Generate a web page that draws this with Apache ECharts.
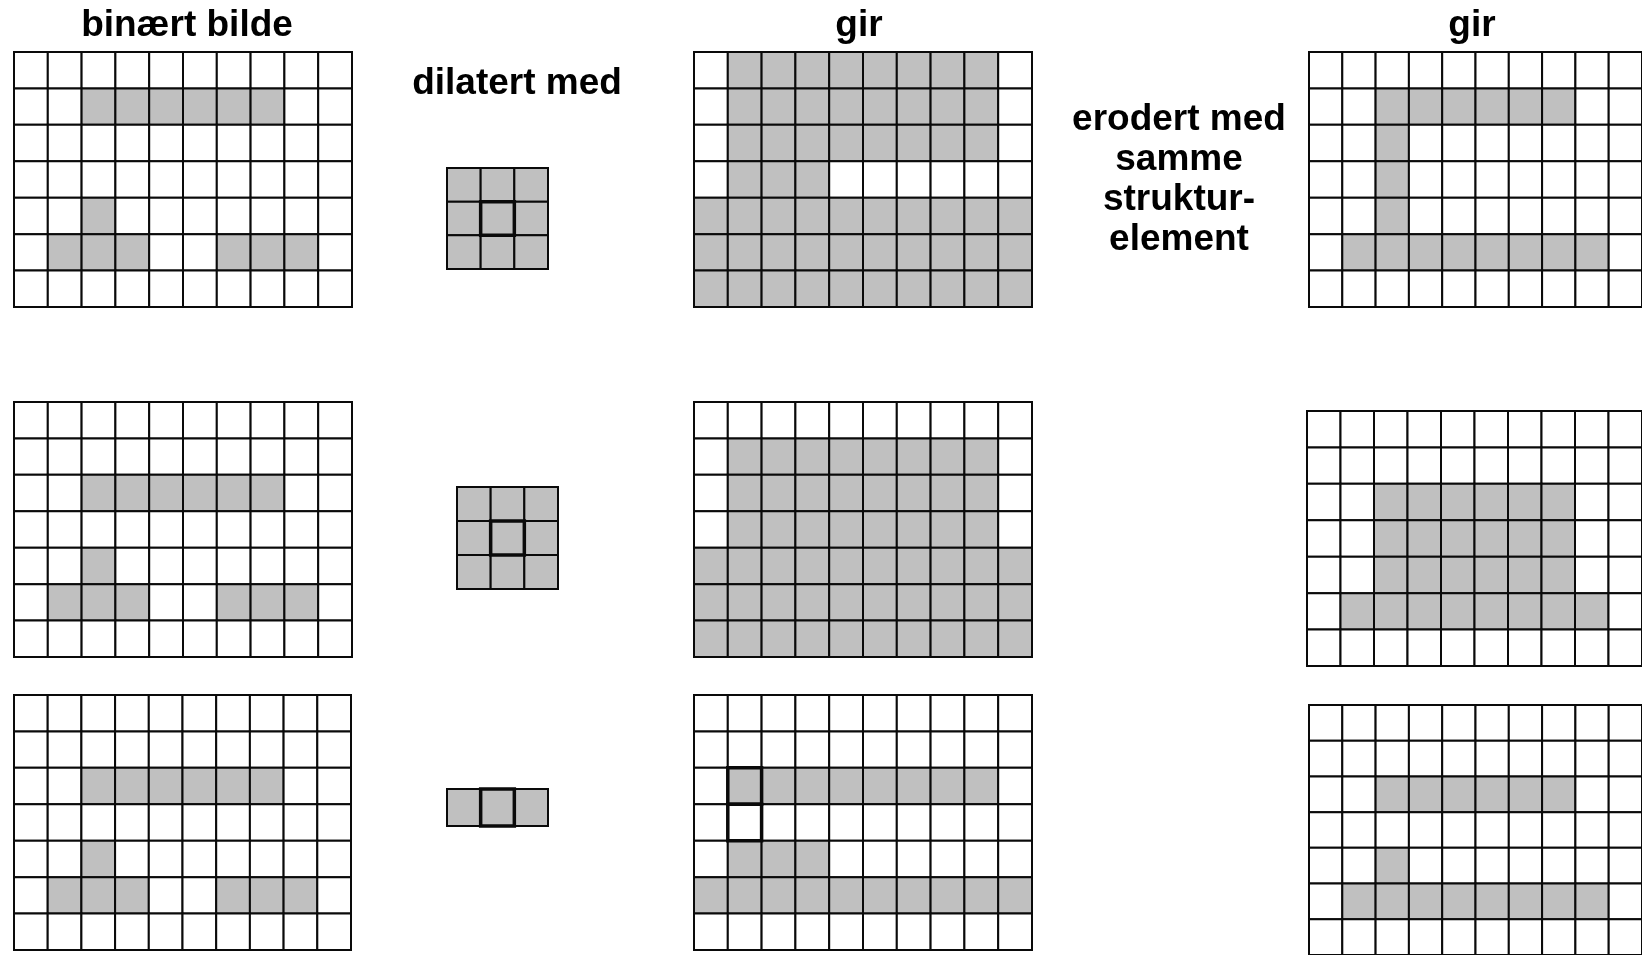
<!DOCTYPE html>
<html>
<head>
<meta charset="utf-8">
<title>dilatasjon og erosjon</title>
<script src="https://cdn.jsdelivr.net/npm/echarts@6/dist/echarts.min.js"></script>
<style>
  html, body { margin: 0; padding: 0; background: #fff; }
  #chart { width: 1642px; height: 955px; }
</style>
</head>
<body>
<div id="chart"></div>
<script>
// binære bilder (1 = grå piksel), lest av figuren rad for rad
const binaryA = [
  [0,0,0,0,0,0,0,0,0,0],
  [0,0,1,1,1,1,1,1,0,0],
  [0,0,0,0,0,0,0,0,0,0],
  [0,0,0,0,0,0,0,0,0,0],
  [0,0,1,0,0,0,0,0,0,0],
  [0,1,1,1,0,0,1,1,1,0],
  [0,0,0,0,0,0,0,0,0,0]
]
const dilatedA = [
  [0,1,1,1,1,1,1,1,1,0],
  [0,1,1,1,1,1,1,1,1,0],
  [0,1,1,1,1,1,1,1,1,0],
  [0,1,1,1,0,0,0,0,0,0],
  [1,1,1,1,1,1,1,1,1,1],
  [1,1,1,1,1,1,1,1,1,1],
  [1,1,1,1,1,1,1,1,1,1]
]
const erodedA = [
  [0,0,0,0,0,0,0,0,0,0],
  [0,0,1,1,1,1,1,1,0,0],
  [0,0,1,0,0,0,0,0,0,0],
  [0,0,1,0,0,0,0,0,0,0],
  [0,0,1,0,0,0,0,0,0,0],
  [0,1,1,1,1,1,1,1,1,0],
  [0,0,0,0,0,0,0,0,0,0]
]
const binaryB = [
  [0,0,0,0,0,0,0,0,0,0],
  [0,0,0,0,0,0,0,0,0,0],
  [0,0,1,1,1,1,1,1,0,0],
  [0,0,0,0,0,0,0,0,0,0],
  [0,0,1,0,0,0,0,0,0,0],
  [0,1,1,1,0,0,1,1,1,0],
  [0,0,0,0,0,0,0,0,0,0]
]
const dilatedB = [
  [0,0,0,0,0,0,0,0,0,0],
  [0,1,1,1,1,1,1,1,1,0],
  [0,1,1,1,1,1,1,1,1,0],
  [0,1,1,1,1,1,1,1,1,0],
  [1,1,1,1,1,1,1,1,1,1],
  [1,1,1,1,1,1,1,1,1,1],
  [1,1,1,1,1,1,1,1,1,1]
]
const erodedB = [
  [0,0,0,0,0,0,0,0,0,0],
  [0,0,0,0,0,0,0,0,0,0],
  [0,0,1,1,1,1,1,1,0,0],
  [0,0,1,1,1,1,1,1,0,0],
  [0,0,1,1,1,1,1,1,0,0],
  [0,1,1,1,1,1,1,1,1,0],
  [0,0,0,0,0,0,0,0,0,0]
]
const binaryC = [
  [0,0,0,0,0,0,0,0,0,0],
  [0,0,0,0,0,0,0,0,0,0],
  [0,0,1,1,1,1,1,1,0,0],
  [0,0,0,0,0,0,0,0,0,0],
  [0,0,1,0,0,0,0,0,0,0],
  [0,1,1,1,0,0,1,1,1,0],
  [0,0,0,0,0,0,0,0,0,0]
]
const dilatedC = [
  [0,0,0,0,0,0,0,0,0,0],
  [0,0,0,0,0,0,0,0,0,0],
  [0,1,1,1,1,1,1,1,1,0],
  [0,0,0,0,0,0,0,0,0,0],
  [0,1,1,1,0,0,0,0,0,0],
  [1,1,1,1,1,1,1,1,1,1],
  [0,0,0,0,0,0,0,0,0,0]
]
const erodedC = [
  [0,0,0,0,0,0,0,0,0,0],
  [0,0,0,0,0,0,0,0,0,0],
  [0,0,1,1,1,1,1,1,0,0],
  [0,0,0,0,0,0,0,0,0,0],
  [0,0,1,0,0,0,0,0,0,0],
  [0,1,1,1,1,1,1,1,1,0],
  [0,0,0,0,0,0,0,0,0,0]
]

// strukturelementer
const seSquare = [
  [1,1,1],
  [1,1,1],
  [1,1,1]
]
const seLine = [
  [1,1,1]
]
// celler med tykk ramme: [kolonne, rad]
const seSquareCenter = [[1, 1]]
const seLineCenter = [[1, 0]]
const markedC = [[1, 2], [1, 3]]

// tekster
const titleBinary = 'binært bilde'
const titleDilate = 'dilatert med'
const titleResult = 'gir'
const titleErode = 'erodert med\nsamme\nstruktur-\nelement'

// panel: bilde + plassering (px)
const panels = [
  { img: binaryA,  mark: [],             box: [14, 52, 338, 255] },
  { img: seSquare, mark: seSquareCenter, box: [447, 168, 101, 101] },
  { img: dilatedA, mark: [],             box: [694, 52, 338, 255] },
  { img: erodedA,  mark: [],             box: [1309, 52, 338, 255] },

  { img: binaryB,  mark: [],             box: [14, 402, 338, 255] },
  { img: seSquare, mark: seSquareCenter, box: [457, 487, 101, 102] },
  { img: dilatedB, mark: [],             box: [694, 402, 338, 255] },
  { img: erodedB,  mark: [],             box: [1307, 411, 338, 255] },

  { img: binaryC,  mark: [],             box: [14, 695, 337, 255] },
  { img: seLine,   mark: seLineCenter,   box: [447, 789, 101, 37] },
  { img: dilatedC, mark: markedC,        box: [694, 695, 338, 255] },
  { img: erodedC,  mark: [],             box: [1309, 705, 338, 255] }
]

function toCells(img, mark) {
  const thin = [], thick = []
  img.forEach((row, r) => row.forEach((v, c) => {
    const isMarked = mark.some(m => m[0] === c && m[1] === r)
    ;(isMarked ? thick : thin).push([c, r, v, isMarked ? 1 : 0])
  }))
  return thin.concat(thick) // tykke rammer tegnes sist
}

function renderCell(params, api) {
  const c = api.value(0), r = api.value(1)
  const p0 = api.coord([c, r])
  const p1 = api.coord([c + 1, r + 1])
  const thick = api.value(3) === 1
  return {
    type: 'rect',
    shape: {
      x: Math.min(p0[0], p1[0]), y: Math.min(p0[1], p1[1]),
      width: Math.abs(p1[0] - p0[0]), height: Math.abs(p1[1] - p0[1])
    },
    style: {
      fill: api.value(2) ? '#c0c0c0' : '#ffffff',
      stroke: '#0a0a0a',
      lineWidth: thick ? 3.5 : 2
    },
    z2: thick ? 10 : 1
  }
}

const grids = [], xAxes = [], yAxes = [], series = []
panels.forEach((p, i) => {
  const rows = p.img.length, cols = p.img[0].length
  grids.push({ left: p.box[0], top: p.box[1], width: p.box[2], height: p.box[3] })
  xAxes.push({ gridIndex: i, type: 'value', min: 0, max: cols, show: false })
  yAxes.push({ gridIndex: i, type: 'value', min: 0, max: rows, inverse: true, show: false })
  series.push({
    type: 'custom',
    xAxisIndex: i, yAxisIndex: i,
    renderItem: renderCell,
    data: toCells(p.img, p.mark),
    silent: true
  })
})

const font = { fontFamily: 'Liberation Sans, Arial, sans-serif', fontWeight: 'bold', fontSize: 37, fill: '#000' }
function label(text, x, y, extra) {
  return { type: 'text', x, y, style: Object.assign({ text, align: 'center', verticalAlign: 'middle' }, font, extra || {}) }
}

const chart = echarts.init(document.getElementById('chart'))
chart.setOption({
  animation: false,
  backgroundColor: '#fff',
  grid: grids,
  xAxis: xAxes,
  yAxis: yAxes,
  series,
  graphic: [
    label(titleBinary, 187, 26),
    label(titleDilate, 517, 84),
    label(titleResult, 859, 26),
    label(titleResult, 1472, 26),
    label(titleErode, 1179, 180, { lineHeight: 40 })
  ]
})
</script>
</body>
</html>
